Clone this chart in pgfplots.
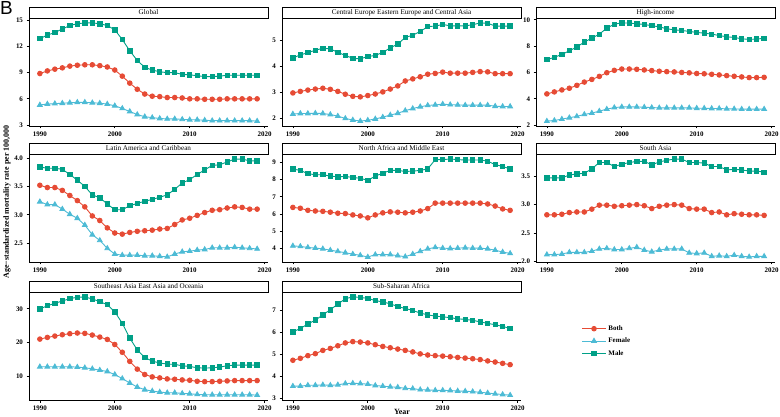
\documentclass[border=0pt]{standalone}
\usepackage{pgfplots}
\pgfplotsset{compat=1.18}
\usepackage{pgfplotstable}
\usepackage{fontspec}
\setmainfont{Liberation Serif}
\newfontfamily\labelsans{Liberation Sans}

\definecolor{cBoth}{HTML}{E64B35}
\definecolor{cFemale}{HTML}{4DBBD5}
\definecolor{cMale}{HTML}{00A087}

% year, both, female, male
\pgfplotstableread{
year b f m
1990 8.90 5.30 12.90
1991 9.20 5.40 13.30
1992 9.40 5.45 13.60
1993 9.55 5.50 14.00
1994 9.75 5.55 14.40
1995 9.85 5.60 14.60
1996 9.90 5.60 14.70
1997 9.90 5.55 14.70
1998 9.80 5.50 14.60
1999 9.65 5.40 14.40
2000 9.30 5.20 13.90
2001 8.60 4.90 12.80
2002 7.80 4.55 11.50
2003 7.10 4.20 10.40
2004 6.55 3.95 9.60
2005 6.30 3.85 9.30
2006 6.25 3.75 9.10
2007 6.15 3.70 9.00
2008 6.15 3.70 9.00
2009 6.10 3.65 8.80
2010 6.00 3.60 8.75
2011 6.00 3.60 8.65
2012 5.95 3.55 8.55
2013 5.95 3.50 8.55
2014 5.95 3.50 8.60
2015 6.00 3.50 8.70
2016 6.00 3.50 8.70
2017 6.00 3.50 8.70
2018 6.00 3.50 8.70
2019 6.00 3.45 8.70
}\tGlobal

\pgfplotstableread{
year b f m
1990 2.98 2.17 4.33
1991 3.04 2.19 4.44
1992 3.09 2.19 4.53
1993 3.13 2.20 4.62
1994 3.16 2.19 4.70
1995 3.12 2.15 4.67
1996 3.04 2.09 4.54
1997 2.93 2.00 4.42
1998 2.85 1.94 4.31
1999 2.83 1.90 4.29
2000 2.88 1.93 4.38
2001 2.94 1.98 4.42
2002 3.02 2.05 4.54
2003 3.13 2.13 4.71
2004 3.25 2.20 4.86
2005 3.44 2.30 5.11
2006 3.52 2.38 5.20
2007 3.60 2.45 5.34
2008 3.70 2.50 5.53
2009 3.73 2.52 5.55
2010 3.78 2.55 5.61
2011 3.74 2.53 5.56
2012 3.74 2.52 5.56
2013 3.74 2.51 5.56
2014 3.77 2.51 5.60
2015 3.80 2.51 5.67
2016 3.79 2.51 5.66
2017 3.72 2.47 5.55
2018 3.72 2.46 5.55
2019 3.72 2.46 5.55
}\tCEE

\pgfplotstableread{
year b f m
1990 4.37 2.30 6.97
1991 4.52 2.35 7.15
1992 4.67 2.45 7.37
1993 4.80 2.56 7.65
1994 5.02 2.66 7.93
1995 5.27 2.81 8.31
1996 5.47 2.91 8.61
1997 5.70 3.06 8.91
1998 5.98 3.21 9.37
1999 6.16 3.33 9.67
2000 6.26 3.38 9.77
2001 6.26 3.38 9.75
2002 6.24 3.38 9.70
2003 6.19 3.36 9.65
2004 6.14 3.33 9.55
2005 6.09 3.31 9.47
2006 6.06 3.31 9.32
2007 6.04 3.31 9.24
2008 6.00 3.31 9.19
2009 5.97 3.31 9.12
2010 5.92 3.28 9.04
2011 5.90 3.28 8.99
2012 5.86 3.26 8.91
2013 5.81 3.26 8.81
2014 5.76 3.23 8.71
2015 5.71 3.23 8.66
2016 5.66 3.21 8.56
2017 5.61 3.21 8.51
2018 5.61 3.21 8.54
2019 5.63 3.21 8.59
}\tHigh

\pgfplotstableread{
year b f m
1990 3.52 3.23 3.84
1991 3.48 3.18 3.82
1992 3.48 3.18 3.82
1993 3.43 3.10 3.80
1994 3.34 3.01 3.71
1995 3.25 2.94 3.61
1996 3.14 2.82 3.50
1997 2.98 2.65 3.35
1998 2.90 2.55 3.30
1999 2.77 2.41 3.19
2000 2.68 2.31 3.09
2001 2.66 2.29 3.09
2002 2.69 2.29 3.16
2003 2.71 2.29 3.20
2004 2.72 2.28 3.24
2005 2.73 2.28 3.27
2006 2.75 2.27 3.31
2007 2.76 2.26 3.35
2008 2.83 2.31 3.45
2009 2.91 2.35 3.56
2010 2.94 2.36 3.62
2011 2.99 2.38 3.71
2012 3.04 2.39 3.79
2013 3.08 2.42 3.87
2014 3.09 2.42 3.88
2015 3.12 2.42 3.93
2016 3.14 2.43 3.98
2017 3.13 2.42 3.98
2018 3.10 2.41 3.95
2019 3.10 2.40 3.95
}\tLatin

\pgfplotstableread{
year b f m
1990 6.38 4.13 8.62
1991 6.33 4.10 8.54
1992 6.21 4.04 8.35
1993 6.17 4.00 8.29
1994 6.15 3.96 8.29
1995 6.10 3.88 8.21
1996 6.04 3.81 8.17
1997 6.02 3.73 8.19
1998 5.94 3.65 8.13
1999 5.88 3.58 8.08
2000 5.77 3.48 7.96
2001 5.94 3.62 8.21
2002 6.06 3.62 8.38
2003 6.12 3.62 8.54
2004 6.10 3.56 8.54
2005 6.06 3.50 8.48
2006 6.10 3.65 8.50
2007 6.17 3.81 8.54
2008 6.31 3.96 8.63
2009 6.63 4.04 9.17
2010 6.63 4.00 9.17
2011 6.63 3.98 9.21
2012 6.63 4.00 9.17
2013 6.63 4.02 9.15
2014 6.63 4.00 9.15
2015 6.63 4.00 9.15
2016 6.58 3.96 9.08
2017 6.46 3.88 8.88
2018 6.29 3.77 8.77
2019 6.21 3.69 8.63
}\tNAME

\pgfplotstableread{
year b f m
1990 2.82 2.12 3.47
1991 2.82 2.12 3.47
1992 2.83 2.13 3.47
1993 2.86 2.16 3.52
1994 2.87 2.16 3.54
1995 2.87 2.16 3.55
1996 2.92 2.18 3.63
1997 2.99 2.22 3.74
1998 2.99 2.23 3.74
1999 2.97 2.21 3.67
2000 2.98 2.21 3.71
2001 2.99 2.23 3.74
2002 3.00 2.25 3.76
2003 2.98 2.20 3.76
2004 2.93 2.17 3.70
2005 2.97 2.20 3.75
2006 2.99 2.22 3.78
2007 3.00 2.22 3.80
2008 2.99 2.22 3.80
2009 2.93 2.15 3.74
2010 2.92 2.14 3.74
2011 2.92 2.15 3.73
2012 2.86 2.09 3.67
2013 2.87 2.10 3.67
2014 2.82 2.09 3.61
2015 2.84 2.11 3.62
2016 2.83 2.09 3.61
2017 2.82 2.08 3.59
2018 2.82 2.09 3.59
2019 2.81 2.09 3.57
}\tSouth

\pgfplotstableread{
year b f m
1990 21.0 12.8 29.9
1991 21.5 12.8 30.9
1992 21.9 12.8 31.6
1993 22.3 12.8 32.3
1994 22.6 12.8 33.0
1995 22.8 12.7 33.4
1996 22.7 12.5 33.5
1997 22.2 12.2 32.9
1998 21.6 11.8 32.1
1999 20.9 11.4 31.2
2000 19.4 10.5 29.1
2001 17.1 9.3 25.7
2002 14.4 8.0 21.3
2003 12.1 6.8 17.8
2004 10.5 6.0 15.5
2005 9.8 5.6 14.5
2006 9.5 5.3 13.9
2007 9.2 5.1 13.6
2008 9.1 5.1 13.5
2009 8.9 4.9 13.1
2010 8.8 4.8 12.9
2011 8.5 4.6 12.5
2012 8.4 4.5 12.4
2013 8.4 4.5 12.5
2014 8.5 4.5 12.7
2015 8.6 4.5 13.1
2016 8.7 4.5 13.3
2017 8.7 4.5 13.3
2018 8.7 4.5 13.3
2019 8.7 4.4 13.3
}\tSEA

\pgfplotstableread{
year b f m
1990 4.73 3.55 6.02
1991 4.82 3.55 6.18
1992 4.94 3.59 6.38
1993 5.03 3.59 6.56
1994 5.18 3.61 6.80
1995 5.27 3.59 7.03
1996 5.39 3.61 7.29
1997 5.52 3.67 7.53
1998 5.58 3.68 7.62
1999 5.56 3.67 7.59
2000 5.52 3.64 7.55
2001 5.44 3.58 7.45
2002 5.36 3.55 7.39
2003 5.30 3.52 7.30
2004 5.24 3.50 7.18
2005 5.18 3.45 7.09
2006 5.11 3.44 7.00
2007 5.02 3.39 6.88
2008 4.97 3.38 6.80
2009 4.94 3.36 6.74
2010 4.92 3.36 6.71
2011 4.89 3.35 6.67
2012 4.86 3.33 6.62
2013 4.83 3.32 6.59
2014 4.80 3.30 6.55
2015 4.76 3.27 6.48
2016 4.70 3.24 6.41
2017 4.65 3.20 6.35
2018 4.59 3.17 6.27
2019 4.53 3.14 6.18
}\tSSA

\pgfplotsset{
  panel/.style={
    scale only axis, width=239bp, height=108bp, anchor=south west,
    xmin=1988.55, xmax=2020.45, xtick={1990,2000,2010,2020},
    axis x line*=bottom, axis y line*=left,
    axis line style={-, line width=0.7bp, black},
    tick align=outside, major tick length=2.5bp,
    tick style={line width=0.7bp, black},
    ticklabel style={font=\bfseries\fontsize{7}{8}\selectfont},
    /pgf/number format/assume math mode=true,
    x tick label style={/pgf/number format/1000 sep={}},
    clip=false,
    every axis plot/.append style={line width=0.9bp, mark size=2.3bp},
  },
  both/.style={color=cBoth, mark=*},
  female/.style={color=cFemale, mark=triangle*, mark size=2.7bp},
  male/.style={color=cMale, mark=square*, mark size=2.2bp},
}

\newcommand{\strip}[1]{%
  \draw[fill=white, line width=0.7bp] (rel axis cs:0,1) rectangle ([yshift=11bp]rel axis cs:1,1);
  \node[font=\fontsize{7.2}{8}\selectfont, inner sep=0pt] at ([yshift=5.5bp]rel axis cs:0.5,1) {#1};}

\newcommand{\series}[1]{%
  \addplot[both] table[x=year, y=b] {#1};
  \addplot[female] table[x=year, y=f] {#1};
  \addplot[male] table[x=year, y=m] {#1};}

\begin{document}
\begin{tikzpicture}
\path[use as bounding box] (0bp,0bp) rectangle (780bp,417bp);

% row 1
\begin{axis}[panel, at={(29bp,291bp)}, ymin=2.89, ymax=15.26, ytick={3,6,9,12,15}]
\series{\tGlobal}
\strip{Global}
\end{axis}
\begin{axis}[panel, at={(282bp,291bp)}, ymin=1.71, ymax=5.86, ytick={2,3,4,5}]
\series{\tCEE}
\strip{Central Europe Eastern Europe and Central Asia}
\end{axis}
\begin{axis}[panel, at={(536bp,291bp)}, ymin=1.93, ymax=10.14, ytick={2,4,6,8,10}]
\series{\tHigh}
\strip{High-income}
\end{axis}

% row 2
\begin{axis}[panel, at={(29bp,155bp)}, ymin=2.17, ymax=4.07, ytick={2.5,3,3.5,4},
  yticklabel style={/pgf/number format/.cd, fixed, fixed zerofill, precision=1}]
\series{\tLatin}
\strip{Latin America and Caribbean}
\end{axis}
\begin{axis}[panel, at={(282bp,155bp)}, ymin=3.19, ymax=9.5, ytick={4,5,6,7,8,9}]
\series{\tNAME}
\strip{North Africa and Middle East}
\end{axis}
\begin{axis}[panel, at={(536bp,155bp)}, ymin=1.99, ymax=3.89, ytick={2,2.5,3,3.5},
  yticklabel style={/pgf/number format/.cd, fixed, fixed zerofill, precision=1}]
\series{\tSouth}
\strip{South Asia}
\end{axis}

% row 3
\begin{axis}[panel, at={(29bp,17bp)}, ymin=2.95, ymax=34.96, ytick={10,20,30}]
\series{\tSEA}
\strip{Southeast Asia East Asia and Oceania}
\end{axis}
\begin{axis}[panel, at={(282bp,17bp)}, ymin=2.92, ymax=7.84, ytick={3,4,5,6,7},
  legend style={at={(1.24,0.546)}, anchor=west, draw=none, fill=none,
    font=\bfseries\fontsize{7}{8}\selectfont, row sep=2bp},
  legend cell align=left,
  legend image code/.code={\draw[mark repeat=2, mark phase=2] plot coordinates {(0bp,0bp) (12bp,0bp) (24bp,0bp)};}]
\addplot[both] table[x=year, y=b] {\tSSA}; \addlegendentry{Both}
\addplot[female] table[x=year, y=f] {\tSSA}; \addlegendentry{Female}
\addplot[male] table[x=year, y=m] {\tSSA}; \addlegendentry{Male}
\strip{Sub-Saharan Africa}
\end{axis}

\node[font=\labelsans\fontsize{19}{20}\selectfont, anchor=north west, inner sep=0pt] at (0bp,416bp) {B};
\node[font=\bfseries\fontsize{8}{9}\selectfont, rotate=90] at (7bp,215bp) {Age−standardized mortality rate per 100,000};
\node[font=\bfseries\fontsize{8}{9}\selectfont] at (402bp,5bp) {Year};
\end{tikzpicture}
\end{document}
